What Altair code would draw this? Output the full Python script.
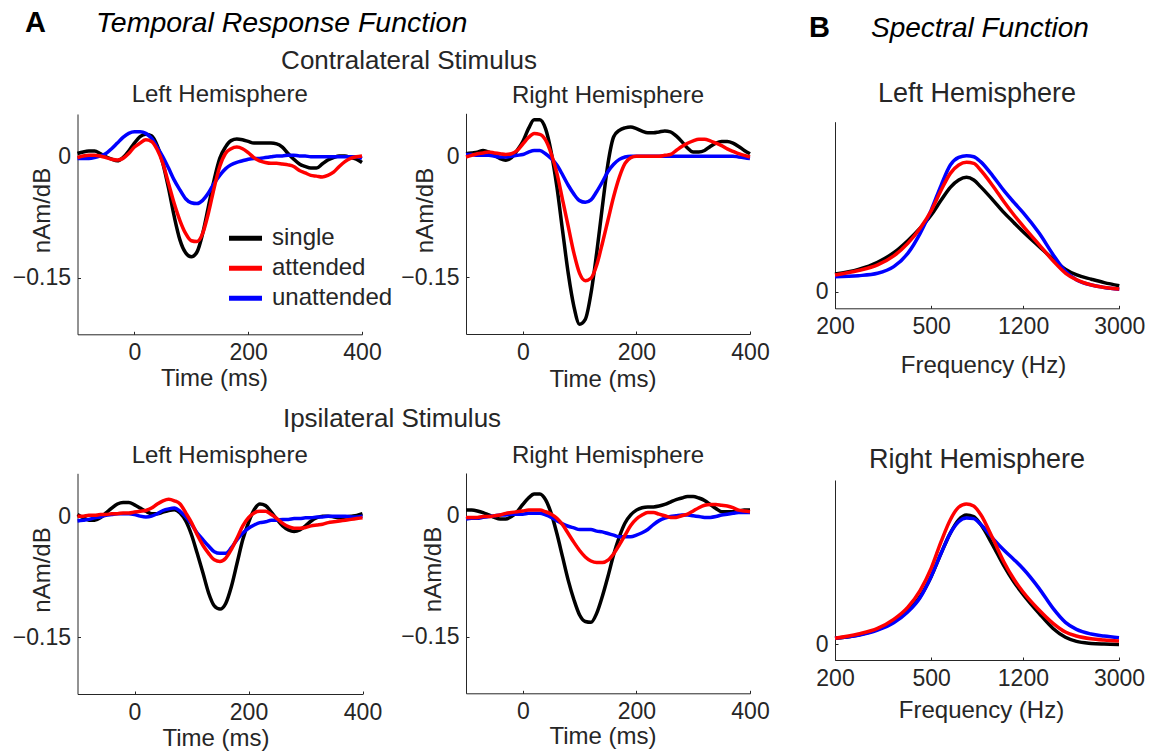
import altair as alt
import pandas as pd

# ---------------- data ----------------
time_ms = [-100, -90, -80, -70, -60, -50, -40, -30, -20, -10,
           0, 10, 20, 30, 40, 50, 60, 70, 80, 90,
           100, 110, 120, 130, 140, 150, 160, 170, 180, 190,
           200, 210, 220, 230, 240, 250, 260, 270, 280, 290,
           300, 310, 320, 330, 340, 350, 360, 370, 380, 390,
           400]

# Contralateral stimulus, left hemisphere
contra_lh_single = [0.004, 0.006, 0.007, 0.007, 0.004, 0.000, -0.003, -0.005, -0.001, 0.007,
                    0.017, 0.025, 0.028, 0.026, 0.014, -0.008, -0.039, -0.074, -0.103, -0.119,
                    -0.124, -0.118, -0.095, -0.062, -0.029, -0.002, 0.012, 0.020, 0.022, 0.021,
                    0.019, 0.017, 0.017, 0.017, 0.017, 0.016, 0.012, 0.004, -0.003, -0.009,
                    -0.012, -0.014, -0.014, -0.009, -0.004, -0.001, 0.001, 0.001, -0.001, -0.003,
                    -0.007]
contra_lh_attended = [-0.001, 0.001, 0.002, 0.002, 0.001, -0.001, -0.003, -0.004, -0.002, 0.004,
                      0.012, 0.017, 0.021, 0.019, 0.009, -0.008, -0.033, -0.058, -0.079, -0.095,
                      -0.104, -0.105, -0.095, -0.070, -0.039, -0.012, 0.004, 0.010, 0.012, 0.010,
                      0.005, -0.001, -0.005, -0.007, -0.008, -0.008, -0.009, -0.010, -0.012, -0.017,
                      -0.020, -0.023, -0.024, -0.025, -0.023, -0.019, -0.012, -0.006, -0.002, 0.000,
                      0.001]
contra_lh_unattended = [-0.002, -0.002, -0.002, -0.001, 0.001, 0.004, 0.010, 0.017, 0.024, 0.029,
                        0.031, 0.031, 0.029, 0.023, 0.012, 0.000, -0.014, -0.029, -0.041, -0.052,
                        -0.057, -0.058, -0.054, -0.045, -0.033, -0.023, -0.015, -0.010, -0.007, -0.005,
                        -0.003, -0.002, -0.002, -0.001, 0.000, 0.001, 0.001, 0.002, 0.002, 0.001,
                        0.001, 0.000, 0.000, 0.000, 0.000, 0.000, 0.000, 0.000, 0.000, 0.000,
                        -0.002]

# Contralateral stimulus, right hemisphere
contra_rh_single = [0.003, 0.004, 0.005, 0.007, 0.005, 0.001, -0.003, -0.005, -0.002, 0.007,
                    0.018, 0.034, 0.045, 0.045, 0.034, 0.005, -0.038, -0.092, -0.145, -0.186,
                    -0.208, -0.202, -0.170, -0.120, -0.063, -0.009, 0.024, 0.032, 0.035, 0.036,
                    0.034, 0.031, 0.029, 0.029, 0.030, 0.031, 0.030, 0.025, 0.018, 0.010,
                    0.005, 0.005, 0.007, 0.012, 0.016, 0.018, 0.018, 0.016, 0.012, 0.007,
                    0.003]
contra_rh_attended = [-0.001, 0.001, 0.003, 0.004, 0.005, 0.004, 0.003, 0.002, 0.003, 0.007,
                      0.015, 0.023, 0.028, 0.027, 0.020, 0.003, -0.021, -0.054, -0.087, -0.120,
                      -0.145, -0.154, -0.151, -0.135, -0.108, -0.079, -0.050, -0.026, -0.009, -0.002,
                      0.000, 0.000, 0.000, 0.000, 0.000, 0.001, 0.002, 0.007, 0.012, 0.016,
                      0.019, 0.021, 0.021, 0.019, 0.016, 0.013, 0.009, 0.006, 0.003, 0.001,
                      -0.001]
contra_rh_unattended = [0.002, 0.002, 0.001, 0.001, 0.001, 0.000, -0.001, -0.001, 0.000, 0.001,
                        0.002, 0.005, 0.007, 0.007, 0.003, -0.003, -0.011, -0.023, -0.036, -0.047,
                        -0.055, -0.057, -0.054, -0.044, -0.032, -0.019, -0.010, -0.004, -0.001, 0.000,
                        0.000, 0.000, 0.000, 0.000, 0.000, 0.000, 0.000, 0.000, 0.000, 0.000,
                        0.000, 0.000, 0.000, 0.000, 0.000, 0.000, 0.000, 0.000, -0.001, -0.002,
                        -0.003]

# Ipsilateral stimulus, left hemisphere
ipsi_lh_single = [0.002, -0.002, -0.005, -0.005, -0.002, 0.004, 0.010, 0.015, 0.017, 0.017,
                  0.014, 0.010, 0.006, 0.003, 0.003, 0.005, 0.007, 0.008, 0.004, -0.006,
                  -0.023, -0.046, -0.070, -0.095, -0.111, -0.115, -0.108, -0.087, -0.058, -0.029,
                  -0.008, 0.008, 0.015, 0.013, 0.005, -0.004, -0.012, -0.017, -0.019, -0.017,
                  -0.012, -0.006, -0.002, 0.000, 0.000, -0.001, -0.002, -0.001, 0.000, 0.001,
                  0.003]
ipsi_lh_attended = [0.000, 0.000, 0.001, 0.001, 0.002, 0.002, 0.003, 0.003, 0.004, 0.004,
                    0.005, 0.006, 0.007, 0.010, 0.015, 0.019, 0.021, 0.019, 0.015, 0.004,
                    -0.008, -0.023, -0.036, -0.046, -0.054, -0.056, -0.052, -0.041, -0.027, -0.012,
                    -0.002, 0.004, 0.006, 0.006, 0.002, -0.003, -0.009, -0.013, -0.015, -0.015,
                    -0.014, -0.012, -0.011, -0.010, -0.008, -0.007, -0.006, -0.005, -0.004, -0.003,
                    -0.002]
ipsi_lh_unattended = [-0.006, -0.005, -0.004, -0.002, -0.001, 0.001, 0.002, 0.003, 0.003, 0.003,
                      0.002, 0.000, -0.001, 0.000, 0.003, 0.007, 0.009, 0.010, 0.006, -0.001,
                      -0.010, -0.021, -0.029, -0.037, -0.044, -0.046, -0.046, -0.039, -0.029, -0.021,
                      -0.015, -0.011, -0.008, -0.007, -0.005, -0.005, -0.004, -0.004, -0.003, -0.003,
                      -0.002, -0.002, -0.001, -0.001, 0.000, 0.000, 0.000, 0.000, -0.001, -0.001,
                      0.000]

# Ipsilateral stimulus, right hemisphere
ipsi_rh_single = [0.007, 0.007, 0.006, 0.004, 0.001, -0.002, -0.004, -0.004, -0.001, 0.005,
                  0.014, 0.022, 0.027, 0.027, 0.020, 0.003, -0.022, -0.051, -0.080, -0.104,
                  -0.123, -0.131, -0.132, -0.121, -0.100, -0.075, -0.048, -0.026, -0.009, 0.001,
                  0.007, 0.010, 0.011, 0.011, 0.012, 0.014, 0.017, 0.020, 0.022, 0.024,
                  0.024, 0.022, 0.019, 0.014, 0.009, 0.005, 0.005, 0.005, 0.006, 0.007,
                  0.007]
ipsi_rh_attended = [-0.002, -0.002, -0.002, -0.001, -0.001, 0.000, 0.001, 0.003, 0.004, 0.005,
                    0.006, 0.007, 0.007, 0.007, 0.005, 0.002, -0.003, -0.011, -0.022, -0.033,
                    -0.043, -0.051, -0.056, -0.058, -0.058, -0.055, -0.047, -0.036, -0.024, -0.012,
                    -0.004, 0.001, 0.004, 0.004, 0.002, 0.000, -0.002, -0.002, 0.000, 0.002,
                    0.006, 0.010, 0.013, 0.014, 0.014, 0.013, 0.012, 0.010, 0.007, 0.006,
                    0.005]
ipsi_rh_unattended = [-0.004, -0.003, -0.003, -0.002, -0.001, 0.000, 0.001, 0.001, 0.002, 0.002,
                      0.002, 0.003, 0.003, 0.003, 0.001, -0.002, -0.006, -0.010, -0.013, -0.015,
                      -0.017, -0.017, -0.017, -0.019, -0.020, -0.022, -0.024, -0.026, -0.026, -0.026,
                      -0.024, -0.021, -0.017, -0.011, -0.006, -0.003, -0.001, 0.000, 0.001, 0.001,
                      0.000, -0.001, -0.002, -0.002, -0.001, 0.001, 0.002, 0.003, 0.004, 0.004,
                      0.004]

freq_hz = [200, 250, 300, 350, 400, 450, 500, 550, 600, 650, 700, 750,
           800, 900, 1000, 1100, 1200, 1400, 1600, 1800, 2000, 2300, 2600, 3000]

spec_lh_single = [0.104, 0.131, 0.173, 0.229, 0.300, 0.373, 0.451, 0.539, 0.614, 0.657, 0.673, 0.657,
                  0.618, 0.539, 0.465, 0.406, 0.353, 0.265, 0.190, 0.131, 0.098, 0.073, 0.053, 0.035]
spec_lh_attended = [0.098, 0.124, 0.157, 0.210, 0.284, 0.373, 0.476, 0.598, 0.696, 0.745, 0.761, 0.755,
                    0.716, 0.622, 0.529, 0.451, 0.386, 0.275, 0.180, 0.108, 0.069, 0.039, 0.025, 0.016]
spec_lh_unattended = [0.088, 0.094, 0.108, 0.147, 0.225, 0.343, 0.480, 0.627, 0.745, 0.790, 0.800, 0.794,
                      0.765, 0.680, 0.594, 0.525, 0.465, 0.343, 0.216, 0.118, 0.069, 0.039, 0.025, 0.014]

spec_rh_single = [0.037, 0.057, 0.091, 0.138, 0.203, 0.290, 0.412, 0.554, 0.675, 0.757, 0.787, 0.777,
                  0.732, 0.604, 0.479, 0.381, 0.306, 0.189, 0.097, 0.043, 0.018, 0.006, 0.002, 0.000]
spec_rh_attended = [0.037, 0.063, 0.097, 0.152, 0.225, 0.327, 0.462, 0.625, 0.757, 0.834, 0.854, 0.842,
                    0.793, 0.645, 0.503, 0.398, 0.320, 0.209, 0.128, 0.075, 0.051, 0.034, 0.026, 0.020]
spec_rh_unattended = [0.037, 0.055, 0.087, 0.132, 0.197, 0.284, 0.412, 0.554, 0.675, 0.746, 0.769, 0.765,
                      0.732, 0.645, 0.574, 0.517, 0.462, 0.341, 0.219, 0.134, 0.091, 0.063, 0.051, 0.041]

series_names = ["single", "attended", "unattended"]
series_colors = ["#000000", "#ff0000", "#0000ff"]
trf_ticks = [0, 200, 400]
trf_yticks = [-0.15, 0]
freq_ticks = [200, 500, 1200, 3000]
spec_yticks = [0]

heading_texts = ["A", "Temporal Response Function", "B", "Spectral Function",
                 "Contralateral Stimulus", "Ipsilateral Stimulus"]
hemi_titles = ["Left Hemisphere", "Right Hemisphere"]

# ---------------- layout / style ----------------
W, H = 1153, 753
FONT = "Liberation Sans"
INK = "#262626"
draw_order = ["single", "unattended", "attended"]


def long_df(xs, single, attended, unattended):
    d = {"single": single, "attended": attended, "unattended": unattended}
    rows = []
    for name in draw_order:
        for xv, yv in zip(xs, d[name]):
            rows.append({"x": xv, "v": yv, "series": name})
    return pd.DataFrame(rows)


color_enc = alt.Color(
    "series:N",
    scale=alt.Scale(domain=series_names, range=series_colors),
    legend=alt.Legend(
        orient="none", legendX=226.5, legendY=223.5, title=None,
        symbolType="stroke", symbolSize=1089, symbolStrokeWidth=5,
        labelFont=FONT, labelFontSize=24, labelColor=INK, labelOffset=7.5,
        rowPadding=0, clipHeight=29.5, padding=0,
    ),
)


def panel(df, xdom, xrng, ydom, yrng, xticks, yticks, xfmt, xtitle, ytitle,
          xtitle_x, xtitle_dy, ytitle_dx, ytitle_y, xtype="linear"):
    x_axis_y = yrng[0]
    y_axis_x = xrng[0]
    xaxis = alt.Axis(
        orient="bottom", offset=x_axis_y - H, values=xticks, format=xfmt,
        title=xtitle, titleX=xtitle_x, titleY=xtitle_dy, titleBaseline="alphabetic",
        titleAlign="center", labelFlush=False, labelPadding=10,
        tickSize=alt.ExprRef(expr="-3"), grid=False, labelOverlap=False,
    )
    yargs = dict(
        orient="left", offset=-y_axis_x, values=yticks, format=".2~f",
        labelPadding=10, tickSize=alt.ExprRef(expr="-3"), grid=False, labelOverlap=False,
    )
    if ytitle:
        yaxis = alt.Axis(title=ytitle, titleX=ytitle_dx, titleY=ytitle_y,
                         titleBaseline="alphabetic", titleAngle=270, titleAlign="center", **yargs)
    else:
        yaxis = alt.Axis(title=None, **yargs)
    return alt.Chart(df).mark_line(strokeWidth=3.5, interpolate="monotone").encode(
        x=alt.X("x:Q", scale=alt.Scale(type=xtype, domain=xdom, range=xrng, nice=False, zero=False), axis=xaxis),
        y=alt.Y("v:Q", scale=alt.Scale(domain=ydom, range=yrng, nice=False, zero=False), axis=yaxis),
        color=color_enc,
    )


def text_layer(txt, x, y, size, align="center", weight="normal", style="normal", color=INK):
    return alt.Chart(alt.Data(values=[{"label": txt}])).mark_text(
        font=FONT, fontSize=size, fontWeight=weight, fontStyle=style,
        align=align, baseline="alphabetic", color=color,
    ).encode(x=alt.value(x), y=alt.value(y), text="label:N")


TRF_DOM = [-100, 400]
TRF_YDOM = [-0.22, 0.053]

p1 = panel(long_df(time_ms, contra_lh_single, contra_lh_attended, contra_lh_unattended),
           TRF_DOM, [77.5, 362], TRF_YDOM, [334.3, 114], trf_ticks, trf_yticks, "d",
           "Time (ms)", "nAm/dB", 214, 51, -28, 210)
p2 = panel(long_df(time_ms, contra_rh_single, contra_rh_attended, contra_rh_unattended),
           TRF_DOM, [466, 750], TRF_YDOM, [334, 113.3], trf_ticks, trf_yticks, "d",
           "Time (ms)", "nAm/dB", 602.5, 52, -34, 210)
p3 = panel(long_df(time_ms, ipsi_lh_single, ipsi_lh_attended, ipsi_lh_unattended),
           TRF_DOM, [77.5, 362.5], TRF_YDOM, [694, 473.3], trf_ticks, trf_yticks, "d",
           "Time (ms)", "nAm/dB", 215.5, 51, -28, 569.5)
p4 = panel(long_df(time_ms, ipsi_rh_single, ipsi_rh_attended, ipsi_rh_unattended),
           TRF_DOM, [466, 750], TRF_YDOM, [693.3, 473], trf_ticks, trf_yticks, "d",
           "Time (ms)", "nAm/dB", 602.5, 50, -26, 569)
s1 = panel(long_df(freq_hz, spec_lh_single, spec_lh_attended, spec_lh_unattended),
           [200, 3000], [835, 1119.3], [-0.098, 1.0], [308.3, 121.7], freq_ticks, spec_yticks, "d",
           "Frequency (Hz)", None, 983, 64, 0, 0, xtype="log")
s2 = panel(long_df(freq_hz, spec_rh_single, spec_rh_attended, spec_rh_unattended),
           [200, 3000], [835, 1119], [-0.095, 1.0], [660, 480], freq_ticks, spec_yticks, "d",
           "Frequency (Hz)", None, 981, 57, 0, 0, xtype="log")

texts = [
    text_layer(heading_texts[0], 25, 32, 29, align="left", weight="bold", color="#000000"),
    text_layer(heading_texts[1], 96, 32, 28.5, align="left", style="italic", color="#000000"),
    text_layer(heading_texts[2], 809, 37, 29, align="left", weight="bold", color="#000000"),
    text_layer(heading_texts[3], 871, 37, 28, align="left", style="italic", color="#000000"),
    text_layer(heading_texts[4], 409, 69, 26),
    text_layer(heading_texts[5], 392, 427, 26),
    text_layer(hemi_titles[0], 219.7, 102, 24),
    text_layer(hemi_titles[1], 608, 103, 24),
    text_layer(hemi_titles[0], 219.7, 463, 24),
    text_layer(hemi_titles[1], 608, 463, 24),
    text_layer(hemi_titles[0], 977, 101.7, 27),
    text_layer(hemi_titles[1], 977, 468.3, 27),
]

chart = alt.layer(p1, p2, p3, p4, s1, s2, *texts).resolve_scale(
    x="independent", y="independent"
).properties(
    width=W, height=H, padding=0,
    autosize=alt.AutoSizeParams(type="none"),
    background="white",
).configure_view(
    stroke="transparent"
).configure_axis(
    labelFont=FONT, titleFont=FONT, labelFontSize=23, titleFontSize=24,
    labelColor=INK, titleColor=INK, domainColor=INK, tickColor=INK,
    titleFontWeight="normal", domainWidth=1, tickWidth=1,
)

chart.save("out.html", embed_options={"renderer": "svg", "actions": False})
